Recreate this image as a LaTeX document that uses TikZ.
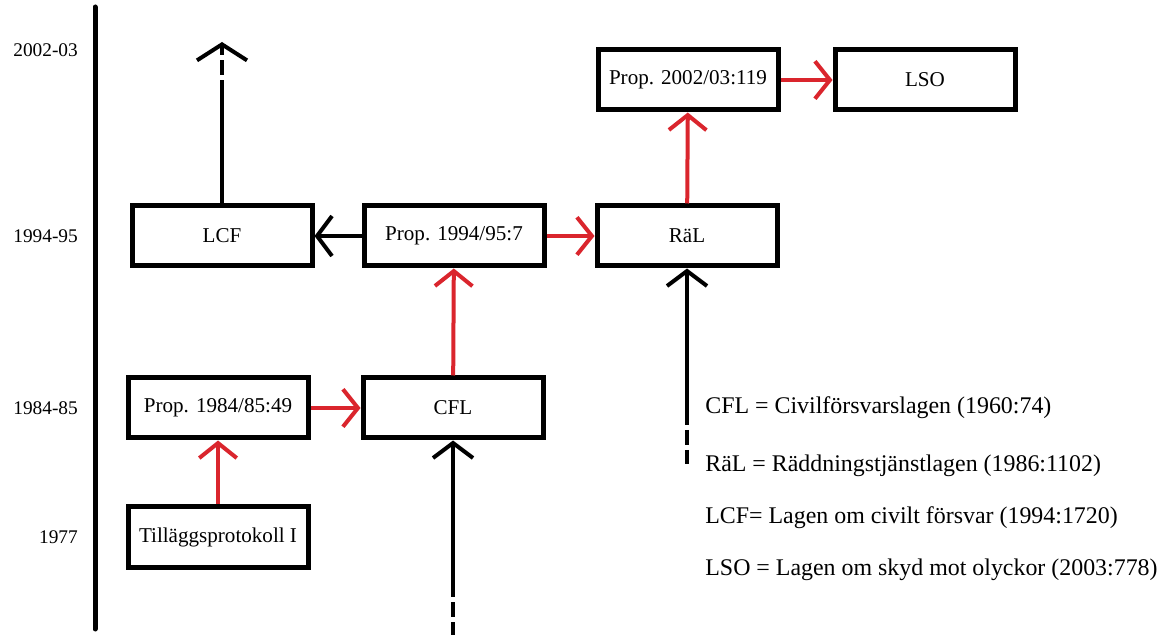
\documentclass[tikz,border=0pt]{standalone}
\usepackage{fontspec}
\setmainfont{Liberation Serif}
\usetikzlibrary{arrows.meta,positioning}
\definecolor{LawRed}{RGB}{218,37,45}
\tikzset{
  lawbox/.style={draw,line width=1mm,minimum width=36mm,minimum height=12mm,
    inner sep=0pt,font=\fontsize{12}{14}\selectfont},
  redarrow/.style={draw=LawRed,line width=0.8mm,-{Straight Barb[length=3mm,width=7.5mm]}},
  blackarrow/.style={line width=0.8mm,-{Straight Barb[length=3mm,width=8mm]}},
  dashline/.style={line width=0.8mm,dash pattern=on 3mm off 1mm},
  yearlabel/.style={anchor=east,font=\fontsize{11}{13}\selectfont},
  legendline/.style={anchor=base west,inner sep=0pt,font=\fontsize{13.6}{16}\selectfont}
}

\begin{document}
\begin{tikzpicture}[x=0.2mm,y=-0.2mm]
  \useasboundingbox (0,0) rectangle (1169,635);
  % time axis
  \draw[line width=1mm,line cap=round] (95,7) -- (95,629);
  \node[yearlabel] (y0203) at (84,50) {2002-03};
  \node[yearlabel] (y9495) at (84,236) {1994-95};
  \node[yearlabel] (y8485) at (84,408) {1984-85};
  \node[yearlabel] (y1977) at (84,537) {1977};

  % laws and propositions
  \node[lawbox] (lcf) at (222,236) {LCF};
  \node[lawbox] (prop95) at (454,236) {Prop. 1994/95:7};
  \node[lawbox] (ral) at (687,236) {RäL};
  \node[lawbox] (prop03) at (688,80) {Prop. 2002/03:119};
  \node[lawbox] (lso) at (925,80) {LSO};
  \node[lawbox] (prop85) at (218,408) {Prop. 1984/85:49};
  \node[lawbox] (cfl) at (453,408) {CFL};
  \node[lawbox] (tp1) at (218,537) {Tilläggsprotokoll I};

  \draw[redarrow] (tp1) -- (prop85);
  \draw[redarrow] (prop85) -- (cfl);
  \draw[redarrow] (cfl) -- (prop95);
  \draw[redarrow] (prop95) -- (ral);
  \draw[redarrow] (ral) -- (prop03);
  \draw[redarrow] (prop03) -- (lso);
  \draw[blackarrow] (prop95) -- (lcf);

  % loose ends
  \coordinate (lcfmid) at (222,95);
  \coordinate (lcftop) at (222,42);
  \draw[line width=0.8mm] (lcf.north) -- (lcfmid);
  \draw[dashline,-{Straight Barb[length=3.2mm,width=10mm]}] (lcfmid) -- (lcftop);

  \coordinate (cflmid) at (453,582);
  \coordinate (cflbot) at (453,640);
  \draw[blackarrow] (cflmid) -- (cfl.south);
  \draw[dashline] (cflmid) -- (cflbot);

  \coordinate (ralmid) at (687,410);
  \coordinate (ralbot) at (687,464);
  \draw[blackarrow] (ralmid) -- (ral.south);
  \draw[dashline] (ralmid) -- (ralbot);

  % legend
  \node[legendline] (lgcfl) at (705,414) {CFL = Civilförsvarslagen (1960:74)};
  \node[legendline] (lgral) at (705,472) {RäL = Räddningstjänstlagen (1986:1102)};
  \node[legendline] (lglcf) at (705,524) {LCF= Lagen om civilt försvar (1994:1720)};
  \node[legendline] (lglso) at (705,576) {LSO = Lagen om skyd mot olyckor (2003:778)};
\end{tikzpicture}
\end{document}
